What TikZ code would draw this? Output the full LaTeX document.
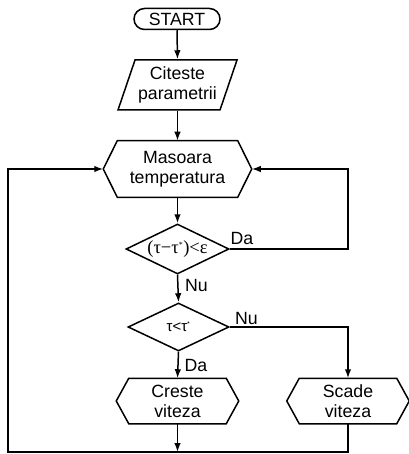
\documentclass[tikz,border=0pt]{standalone}
\usepackage{fontspec}
\setmainfont{Liberation Sans}
\newfontfamily\serf{Liberation Serif}
\usetikzlibrary{shapes.geometric,shapes.misc,arrows.meta,calc}
\newcommand\hexout[2]{%
  \draw ([xshift=-#2pt]#1.west) -- (#1.north west) -- (#1.north east) --
        ([xshift=#2pt]#1.east) -- (#1.south east) -- (#1.south west) -- cycle;}
\begin{document}
\begin{tikzpicture}[x=1pt,y=-1pt,
  line width=1.5pt,
  every node/.style={font=\fontsize{17.7}{20}\selectfont, inner sep=0pt, align=center},
  arr/.style={-{Latex[length=9pt,width=6.5pt]}},
  hexbox/.style={rectangle, minimum width=#1pt, minimum height=55pt},
  dia/.style={diamond, draw, line width=1.5pt},
  lbl/.style={font=\fontsize{17.7}{20}\selectfont}]
\useasboundingbox (0,0) rectangle (408,454);

% nodes
\node[rounded rectangle, draw, minimum width=86pt, minimum height=21pt] (start) at (177,19) {START};
\node[minimum height=50pt, minimum width=70pt] (para) at (177.5,85) {Citeste\\parametrii};
\node[hexbox=119] (meas) at (177.5,169) {Masoara\\temperatura};
\node[dia, minimum width=103pt, minimum height=50pt] (d1) at (177.5,249) {};
\node (d1t) at (d1.center) {\fontsize{18.5}{20}\selectfont\serf (τ−τ\textsuperscript{\fontsize{8}{8}\selectfont *})<ε};
\node[dia, minimum width=101pt, minimum height=48pt] (d2) at (178.5,327) {};
\node (d2t) at (d2.center) {\fontsize{15}{16}\selectfont τ<τ\textsuperscript{\fontsize{7}{8}\selectfont *}};
\node[rectangle, minimum width=96pt, minimum height=44pt] (creste) at (177.5,401) {Creste\\viteza};
\node[rectangle, minimum width=96pt, minimum height=44pt] (scade) at (348,401) {Scade\\viteza};

% outlines
\draw ($(para.center)+(-42.5,-25)$) -- ($(para.center)+(59.5,-25)$) --
      ($(para.center)+(42.5,25)$) -- ($(para.center)+(-59.5,25)$) -- cycle;
\hexout{meas}{14}
\hexout{creste}{12.5}
\hexout{scade}{12.5}

\coordinate (measL) at ([xshift=-14pt]meas.west);
\coordinate (measR) at ([xshift=14pt]meas.east);
\coordinate (fbR) at (348,169);
\coordinate (fbLb) at (8,452);

% labels
\node[lbl] (da1) at (242,238) {Da};
\node[lbl] (nu1) at (196.5,285) {Nu};
\node[lbl] (nu2) at (246.5,318) {Nu};
\node[lbl] (da2) at (196,365) {Da};

% connectors
\draw[arr] (start.south) -- (para.north);
\draw[arr] (para.south) -- (meas.north);
\draw[arr] (meas.south) -- (d1.north);
\draw[arr] (d1.east) -| (fbR) -- (measR);
\draw[arr] (d1.south) -- (d2.north);
\draw[arr] (d2.east) -| (scade.north);
\draw[arr] (d2.south) -- (creste.north);
\draw[arr] (creste.south) -- (creste.south |- fbLb);
\draw[arr] (scade.south) |- (fbLb) |- (measL);
\end{tikzpicture}
\end{document}
